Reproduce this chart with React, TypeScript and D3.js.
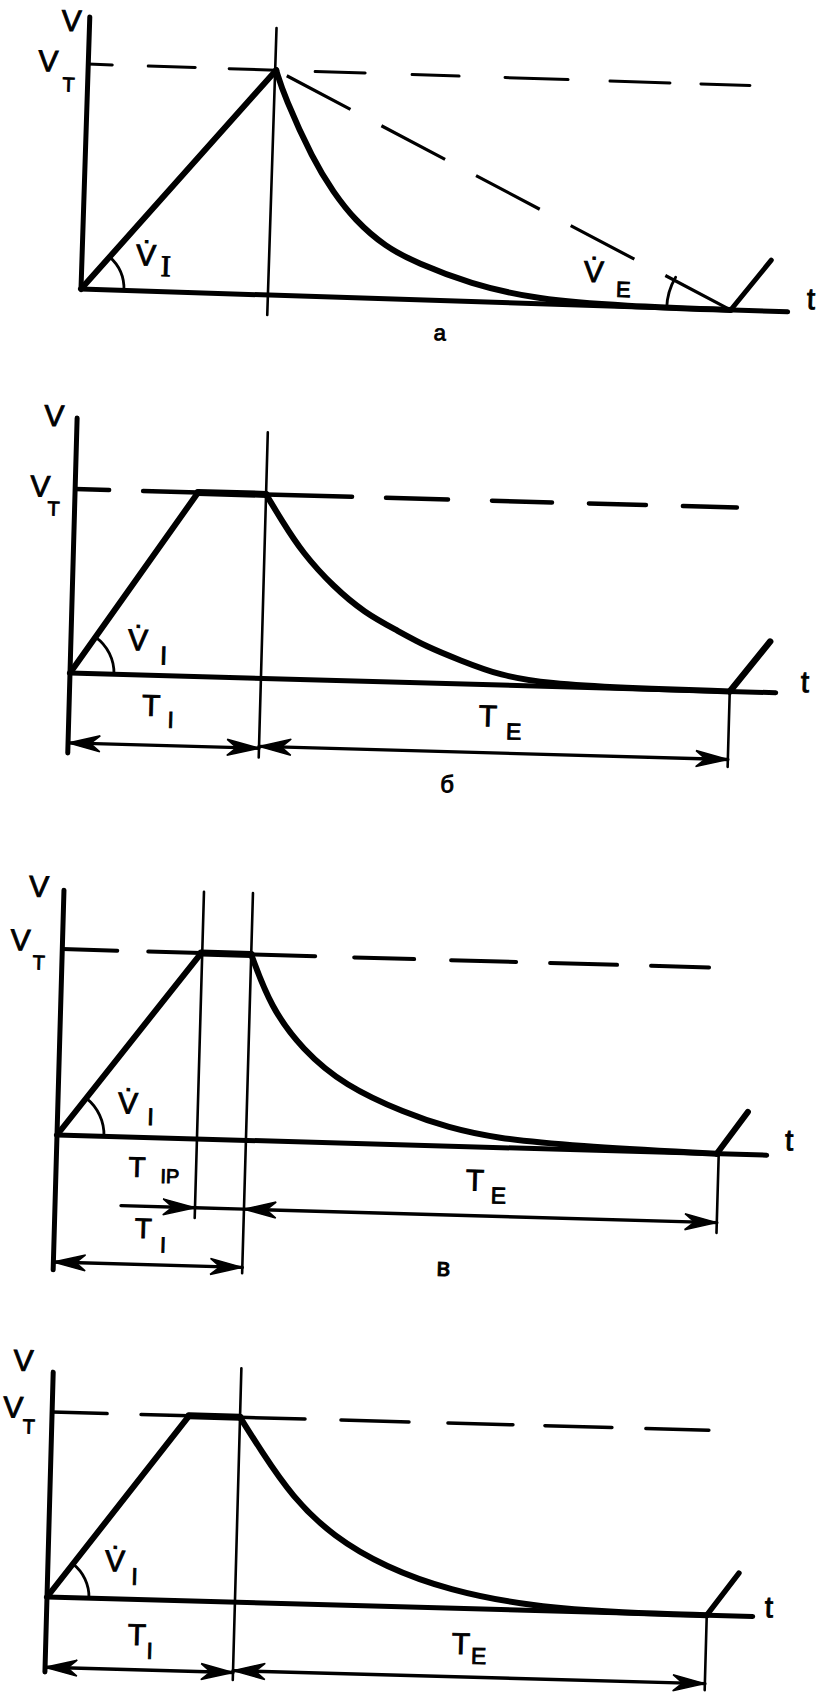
import React from "react";
import * as d3 from "d3";

type Pt = [number, number];

// time in arbitrary units (t), volume normalised so that V_T = 1

// ---- panel а
const aAxis: Pt[] = [[0, 0], [0, 1.21]];
const aBase: Pt[] = [[0, 0], [7.07, 0]];
const aRamp: Pt[] = [[0, 0], [1.88, 1]];
const aDecay: Pt[] = [[1.88, 1], [1.97, 0.885], [2.28, 0.605], [2.49, 0.467], [2.71, 0.347], [3.03, 0.23], [3.35, 0.164], [3.88, 0.08], [4.56, 0.018], [5.44, 0.002], [6.5, 0]];
const aSlope: Pt[] = [[1.88, 1], [6.5, 0]];
const aRise: Pt[] = [[6.5, 0], [6.89, 0.227]];
const aRef: Pt[] = [[0, 0.24], [0.6, 1.07], [1.41, 1.88], [2.27, 2.77], [3.24, 3.71], [4.17, 4.8], [5.22, 5.82], [6.13, 6.62]];
const aGuides: Pt[][] = [[[1.87, -0.089], [1.87, 1.187]]];

// ---- panel б
const bAxis: Pt[] = [[0, -0.435], [0, 1.386]];
const bBase: Pt[] = [[0, 0], [7.06, 0]];
const bRamp: Pt[] = [[0, 0], [1.23, 1]];
const bPlateau: Pt[] = [[1.23, 1], [1.91, 1]];
const bDecay: Pt[] = [[1.91, 1], [2.07, 0.864], [2.29, 0.688], [2.61, 0.508], [2.93, 0.371], [3.25, 0.283], [3.56, 0.196], [3.89, 0.13], [4.3, 0.05], [4.8, 0.015], [5.5, 0.003], [6.6, 0]];
const bRise: Pt[] = [[6.6, 0], [6.99, 0.277]];
const bRef: Pt[] = [[0, 0.34], [0.68, 1.23], [1.91, 2.77], [3.11, 3.73], [4.17, 4.77], [5.14, 5.71], [6.08, 6.62]];
const bGuides: Pt[][] = [[[1.91, -0.43], [1.91, 1.337]], [[6.6, 0], [6.6, -0.41]]];

// ---- panel в
const cAxis: Pt[] = [[0, -0.725], [0, 1.317]];
const cBase: Pt[] = [[0, 0], [7.1, 0]];
const cRamp: Pt[] = [[0, 0], [1.39, 1]];
const cPlateau: Pt[] = [[1.39, 1], [1.89, 1]];
const cDecay: Pt[] = [[1.89, 1], [2.1, 0.72], [2.43, 0.495], [2.86, 0.31], [3.48, 0.17], [3.91, 0.1], [4.38, 0.05], [5.16, 0.02], [6.6, 0]];
const cRise: Pt[] = [[6.6, 0], [6.9, 0.23]];
const cRef: Pt[] = [[0, 0.55], [0.86, 1.39], [1.89, 2.53], [2.92, 3.52], [3.89, 4.54], [4.88, 5.55], [5.89, 6.47]];
const cGuides: Pt[][] = [[[1.4, -0.425], [1.4, 1.33]], [[1.89, -0.715], [1.89, 1.33]], [[6.62, 0], [6.62, -0.425]]];

// ---- panel г (unlabelled)
const dAxis: Pt[] = [[0, -0.405], [0, 1.216]];
const dBase: Pt[] = [[0, 0], [7.06, 0]];
const dRamp: Pt[] = [[0, 0], [1.37, 1]];
const dPlateau: Pt[] = [[1.37, 1], [1.88, 1]];
const dDecay: Pt[] = [[1.88, 1], [2.095, 0.826], [2.423, 0.577], [2.849, 0.367], [3.378, 0.212], [4.008, 0.097], [4.85, 0.02], [5.78, 0], [6.6, 0]];
const dRise: Pt[] = [[6.6, 0], [6.91, 0.232]];
const dRef: Pt[] = [[0, 0.55], [0.89, 1.37], [1.88, 2.53], [2.89, 3.57], [3.96, 4.61], [4.93, 5.6], [5.94, 6.57]];
const dGuides: Pt[][] = [[[1.88, -0.42], [1.88, 1.265]], [[6.6, 0], [6.6, -0.405]]];

interface Dim { t0: number; t1: number; v: number; h0: boolean; h1: boolean; }

const bDims: Dim[] = [
  { t0: 0, t1: 1.91, v: -0.38, h0: true, h1: true },
  { t0: 1.91, t1: 6.6, v: -0.37, h0: true, h1: true },
];
const cDims: Dim[] = [
  { t0: 0.66, t1: 1.4, v: -0.37, h0: false, h1: true },
  { t0: 1.4, t1: 1.89, v: -0.37, h0: false, h1: false },
  { t0: 1.89, t1: 6.62, v: -0.37, h0: true, h1: true },
  { t0: 0, t1: 1.89, v: -0.683, h0: true, h1: true },
];
const dDims: Dim[] = [
  { t0: 0, t1: 1.88, v: -0.38, h0: true, h1: true },
  { t0: 1.88, t1: 6.6, v: -0.37, h0: true, h1: true },
];

interface Label { s: string; x: number; y: number; f: number; serif?: boolean; }

const aLabels: Label[] = [
  { s: "V", x: -18, y: -268, f: 30 },
  { s: "V", x: -40, y: -227, f: 30 },
  { s: "T", x: -19, y: -204, f: 20 },
  { s: "V\u0307", x: 64, y: -36, f: 30 },
  { s: "I", x: 84, y: -26, f: 30, serif: true },
  { s: "V\u0307", x: 512, y: -34, f: 30 },
  { s: "E", x: 542, y: -17, f: 22 },
  { s: "t", x: 730, y: -14, f: 30 },
  { s: "а", x: 360, y: 32, f: 22 },
];
const bLabels: Label[] = [
  { s: "V", x: -23, y: -257, f: 30 },
  { s: "V", x: -35, y: -186, f: 30 },
  { s: "T", x: -21, y: -164, f: 20 },
  { s: "V\u0307", x: 67, y: -35, f: 30 },
  { s: "I", x: 93, y: -20, f: 26 },
  { s: "t", x: 735, y: -12, f: 30 },
  { s: "T", x: 82, y: 30, f: 30 },
  { s: "I", x: 102, y: 44, f: 23 },
  { s: "T", x: 419, y: 31, f: 30 },
  { s: "E", x: 445, y: 46, f: 23 },
  { s: "б", x: 380, y: 100, f: 24 },
];
const cLabels: Label[] = [
  { s: "V", x: -25, y: -248, f: 30 },
  { s: "V", x: -42, y: -194, f: 30 },
  { s: "T", x: -23, y: -172, f: 20 },
  { s: "V\u0307", x: 70, y: -34, f: 30 },
  { s: "I", x: 93, y: -21, f: 24 },
  { s: "t", x: 732, y: -16, f: 30 },
  { s: "T", x: 81, y: 30, f: 28 },
  { s: "IP", x: 114, y: 38, f: 20 },
  { s: "T", x: 89, y: 91, f: 28 },
  { s: "I", x: 109, y: 107, f: 22 },
  { s: "T", x: 419, y: 33, f: 30 },
  { s: "E", x: 443, y: 48, f: 23 },
  { s: "в", x: 390, y: 121, f: 26 },
];
const dLabels: Label[] = [
  { s: "V", x: -30, y: -236, f: 30 },
  { s: "V", x: -39, y: -189, f: 30 },
  { s: "T", x: -23, y: -170, f: 20 },
  { s: "V\u0307", x: 67, y: -38, f: 30 },
  { s: "I", x: 87, y: -23, f: 24 },
  { s: "t", x: 722, y: -10, f: 30 },
  { s: "T", x: 91, y: 35, f: 30 },
  { s: "I", x: 104, y: 51, f: 23 },
  { s: "T", x: 415, y: 35, f: 30 },
  { s: "E", x: 433, y: 47, f: 23 },
];

interface Layout { ox: number; oy: number; rot: number; pxV: number; arcR: number; w: number; }

const PX_T = 100;
const SANS = "'Liberation Sans', Arial, sans-serif";
const SERIF = "'Liberation Serif', 'Times New Roman', serif";

interface PanelProps {
  layout: Layout;
  axis: Pt[]; base: Pt[]; ramp: Pt[]; plateau?: Pt[]; decay: Pt[]; rise: Pt[];
  slope?: Pt[]; refs: Pt[]; guides: Pt[][]; dims?: Dim[]; labels: Label[];
}

const arcPath = (cx: number, cy: number, r: number, a0: number, a1: number) => {
  const p = d3.path();
  p.moveTo(cx + r * Math.cos(a0), cy + r * Math.sin(a0));
  p.arc(cx, cy, r, a0, a1, false);
  return p.toString();
};

const head = (xt: number, yt: number, dir: number) => {
  const L = 32, w = 8;
  return `M${xt},${yt}L${xt - dir * L},${yt - w}L${xt - dir * L * 0.7},${yt}L${xt - dir * L},${yt + w}Z`;
};

const Panel: React.FC<PanelProps> = ({ layout, axis, base, ramp, plateau, decay, rise, slope, refs, guides, dims, labels }) => {
  const x = d3.scaleLinear().domain([0, 1]).range([0, PX_T]);
  const y = d3.scaleLinear().domain([0, 1]).range([0, -layout.pxV]);
  const line = d3.line<Pt>().x(d => x(d[0])).y(d => y(d[1]));
  const smooth = d3.line<Pt>().x(d => x(d[0])).y(d => y(d[1])).curve(d3.curveBasis);

  const top = ramp[ramp.length - 1];
  const rampAng = Math.atan2(y(top[1]) - y(0), x(top[0]) - x(0));

  let eArc: string | null = null;
  if (slope) {
    const [p0, p1] = slope;
    const ang = Math.atan2(y(p0[1]) - y(p1[1]), x(p0[0]) - x(p1[0])) + 2 * Math.PI;
    eArc = arcPath(x(p1[0]), y(p1[1]), 64, Math.PI, ang + 0.05);
  }

  return (
    <g transform={`translate(${layout.ox},${layout.oy}) rotate(${layout.rot})`} fill="none" stroke="#000" strokeLinecap="round">
      {guides.map((g, i) => <path key={"g" + i} d={line(g)!} strokeWidth={2.6} />)}
      {refs.map((r, i) => (
        <line key={"r" + i} x1={x(r[0])} x2={x(r[1])} y1={y(1)} y2={y(1)} strokeWidth={layout.w - 0.5} />
      ))}
      {slope && <path d={line(slope)!} strokeWidth={3.2} strokeDasharray="72 35" strokeDashoffset={-12} strokeLinecap="butt" />}
      <path d={line(axis)!} strokeWidth={5} />
      <path d={line(base)!} strokeWidth={5} />
      <path d={line(ramp)!} strokeWidth={6} />
      {plateau && <path d={line(plateau)!} strokeWidth={7} />}
      <path d={smooth(decay)!} strokeWidth={6} />
      <path d={line(rise)!} strokeWidth={layout.w + 1.5} />
      <path d={arcPath(0, 0, layout.arcR, rampAng, 0)} strokeWidth={2.8} />
      {eArc && <path d={eArc} strokeWidth={2.8} />}
      {(dims || []).map((dm, i) => {
        const yy = y(dm.v), x0 = x(dm.t0), x1 = x(dm.t1);
        return (
          <g key={"d" + i}>
            <line x1={x0} x2={x1} y1={yy} y2={yy} strokeWidth={3.4} />
            {dm.h0 && <path d={head(x0, yy, -1)} fill="#000" strokeWidth={1.5} />}
            {dm.h1 && <path d={head(x1, yy, 1)} fill="#000" strokeWidth={1.5} />}
          </g>
        );
      })}
      <g fill="#000" stroke="#000" strokeWidth={0.9} strokeLinecap="butt">
        {labels.map((l, i) => (
          <text key={"l" + i} x={l.x} y={l.y} fontSize={l.f} fontFamily={l.serif ? SERIF : SANS}
            textAnchor="middle" dominantBaseline="central">{l.s}</text>
        ))}
      </g>
    </g>
  );
};

const layoutA: Layout = { ox: 81, oy: 289, rot: 1.85, pxV: 225, arcR: 43, w: 3.5 };
const layoutB: Layout = { ox: 70, oy: 673, rot: 1.6, pxV: 184, arcR: 44, w: 5 };
const layoutC: Layout = { ox: 57, oy: 1135, rot: 1.63, pxV: 186, arcR: 47, w: 4.5 };
const layoutD: Layout = { ox: 47, oy: 1597, rot: 1.58, pxV: 185, arcR: 42, w: 4 };

const App: React.FC = () => (
  <svg width={816} height={1708} style={{ position: "absolute", left: 0, top: 0, display: "block", background: "#fff" }}>
    <rect width={816} height={1708} fill="#fff" />
    <Panel layout={layoutA} axis={aAxis} base={aBase} ramp={aRamp} decay={aDecay} rise={aRise}
      slope={aSlope} refs={aRef} guides={aGuides} labels={aLabels} />
    <Panel layout={layoutB} axis={bAxis} base={bBase} ramp={bRamp} plateau={bPlateau} decay={bDecay} rise={bRise}
      refs={bRef} guides={bGuides} dims={bDims} labels={bLabels} />
    <Panel layout={layoutC} axis={cAxis} base={cBase} ramp={cRamp} plateau={cPlateau} decay={cDecay} rise={cRise}
      refs={cRef} guides={cGuides} dims={cDims} labels={cLabels} />
    <Panel layout={layoutD} axis={dAxis} base={dBase} ramp={dRamp} plateau={dPlateau} decay={dDecay} rise={dRise}
      refs={dRef} guides={dGuides} dims={dDims} labels={dLabels} />
  </svg>
);

export default App;
